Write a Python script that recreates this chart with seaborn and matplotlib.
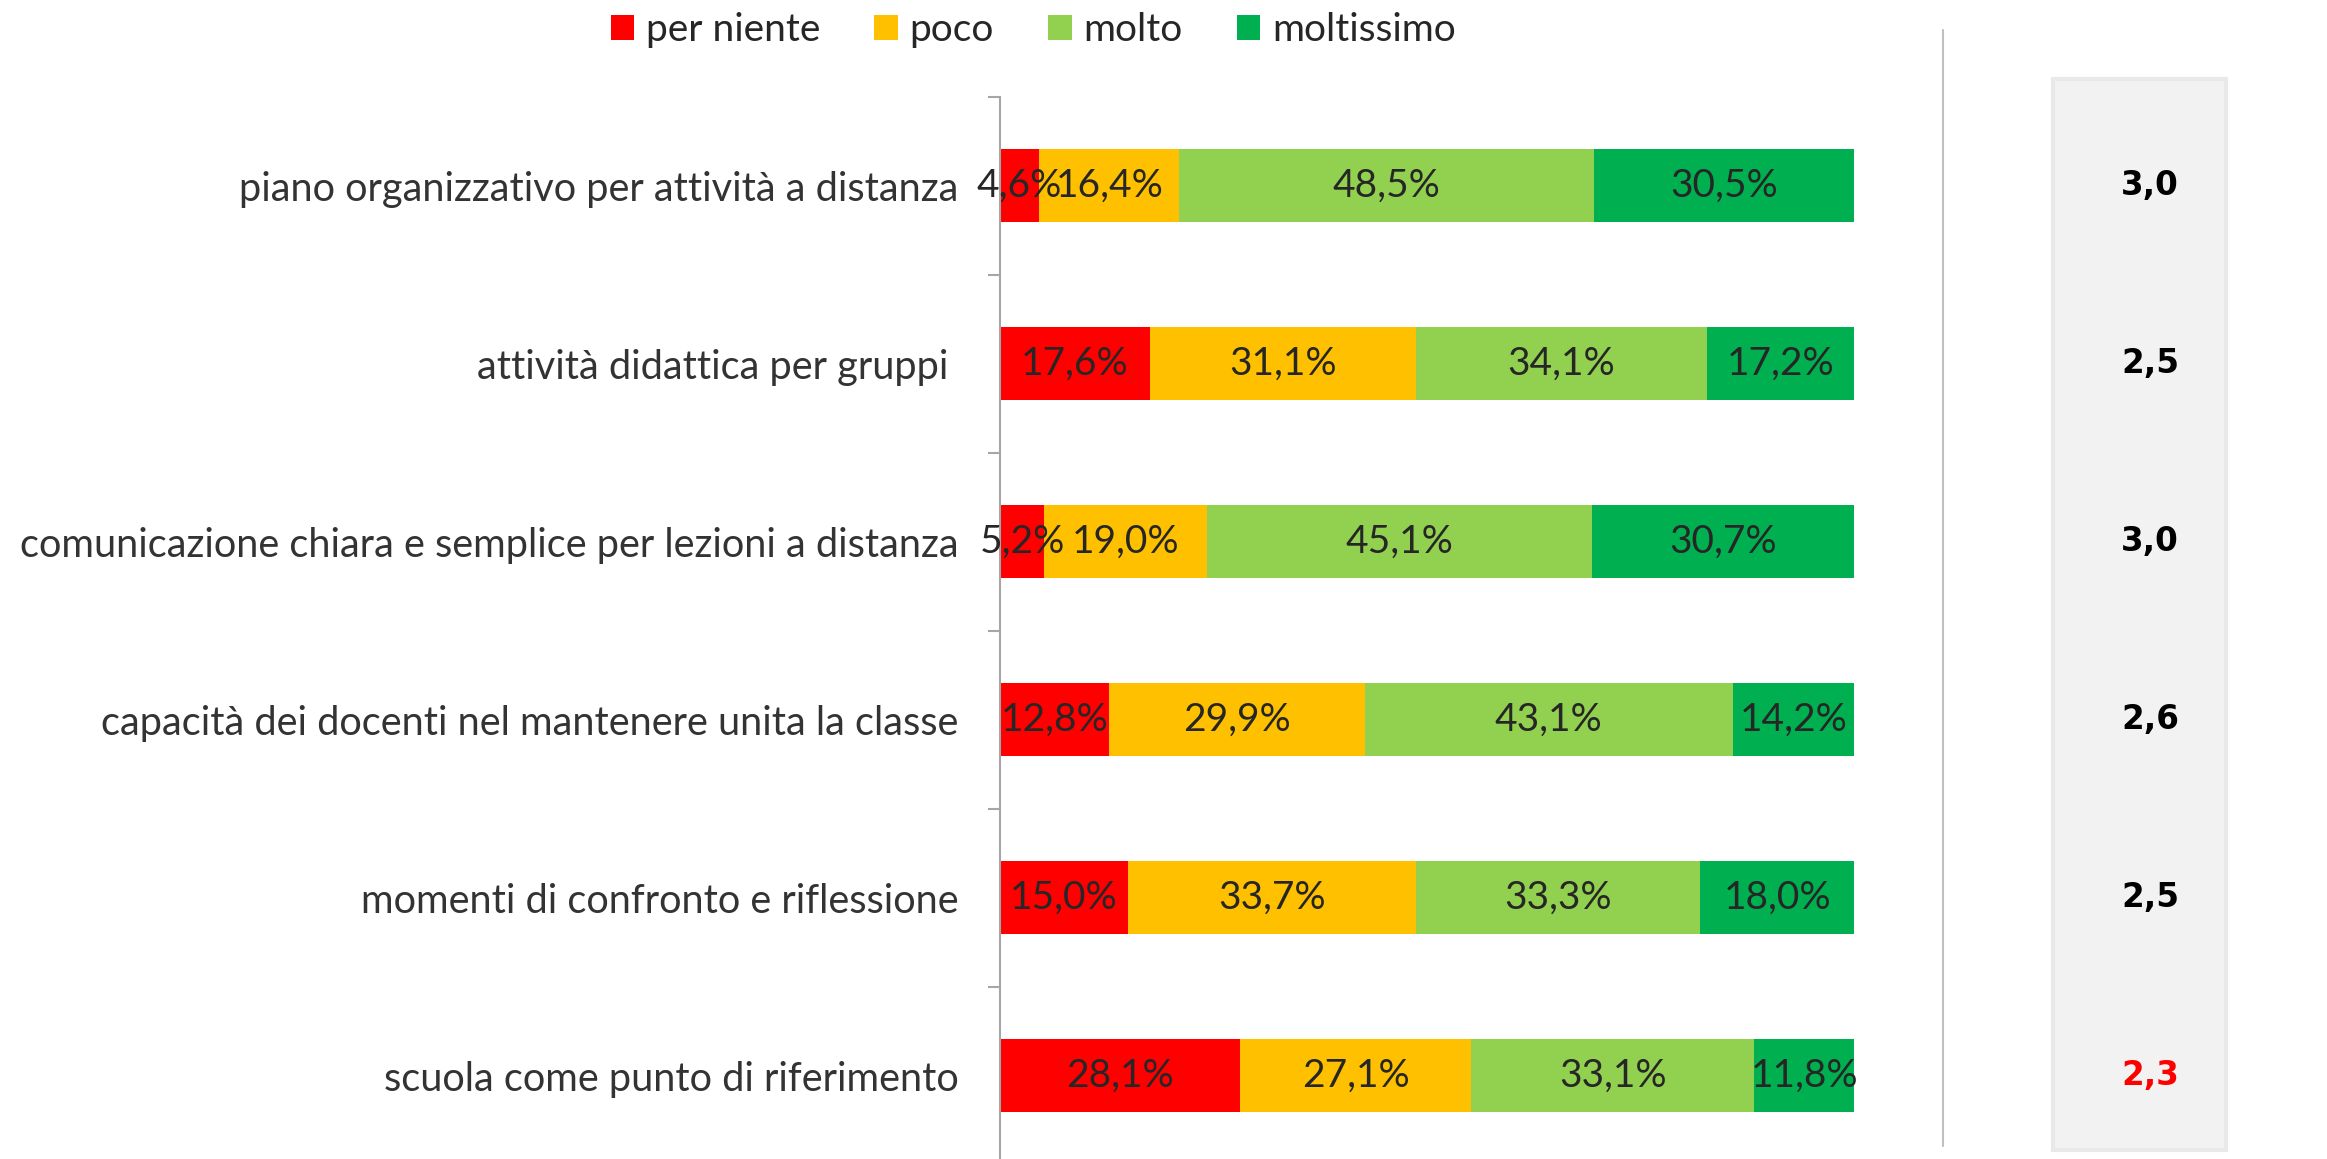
import numpy as np
import pandas as pd
import matplotlib
matplotlib.use("Agg")
import matplotlib.pyplot as plt
import seaborn as sns
from matplotlib.patches import Rectangle, Patch
from matplotlib.lines import Line2D
from matplotlib.transforms import blended_transform_factory

categories = [
    "piano organizzativo per attività a distanza",
    "attività didattica per gruppi ",
    "comunicazione chiara e semplice per lezioni a distanza",
    "capacità dei docenti nel mantenere unita la classe",
    "momenti di confronto e riflessione",
    "scuola come punto di riferimento",
]
series_names = ["per niente", "poco", "molto", "moltissimo"]
per_niente = [4.6, 17.6, 5.2, 12.8, 15.0, 28.1]
poco = [16.4, 31.1, 19.0, 29.9, 33.7, 27.1]
molto = [48.5, 34.1, 45.1, 43.1, 33.3, 33.1]
moltissimo = [30.5, 17.2, 30.7, 14.2, 18.0, 11.8]
medie = ["3,0", "2,5", "3,0", "2,6", "2,5", "2,3"]
medie_colori = ["black", "black", "black", "black", "black", "#ff0000"]

colors = ["#ff0000", "#ffc000", "#92d050", "#00b050"]

sns.set_style("white")
plt.rcParams['font.family'] = ['Lato', 'DejaVu Sans']

df = pd.DataFrame({"categoria": categories, "per niente": per_niente, "poco": poco,
                   "molto": molto, "moltissimo": moltissimo})
cum = df[series_names].cumsum(axis=1)

fig = plt.figure(figsize=(23.27, 11.59), dpi=100)
ax = fig.add_axes([1000 / 2327, -6 / 1159, 854 / 2327, 1068.5 / 1159])

# stacked bars: draw cumulative totals from the longest to the shortest
for name, col in reversed(list(zip(series_names, colors))):
    sns.barplot(x=cum[name], y=df["categoria"], color=col, width=0.41,
                orient="h", linewidth=0, saturation=1, ax=ax)

fs = 28
for name in series_names:
    for i, v in enumerate(df[name]):
        centro = cum[name][i] - v / 2
        ax.text(centro, i, f"{v:.1f}%".replace(".", ","), ha="center", va="center",
                fontsize=fs, color="#262626")

ax.set_xlim(0, 100)
ax.set_ylim(5.5, -0.5)
ax.set_xlabel("")
ax.set_ylabel("")
ax.set_xticks([])
for s in ["top", "right", "bottom"]:
    ax.spines[s].set_visible(False)
ax.spines["left"].set_color("#a6a6a6")
ax.spines["left"].set_linewidth(1.5)
ax.set_yticks(np.arange(-0.5, 6, 1), minor=True)
ax.tick_params(axis="y", which="minor", length=9, width=1.5, color="#a6a6a6", left=True)
ax.tick_params(axis="y", which="major", length=0, pad=30, labelsize=28.6, labelcolor="#333333")

handles = [Patch(facecolor=c, edgecolor="none") for c in colors]
fig.legend(handles, series_names, loc="center", bbox_to_anchor=(0.444, 0.974), ncol=4,
           frameon=False, fontsize=fs, handlelength=0.6, handleheight=0.6,
           handletextpad=0.3, columnspacing=1.4, labelcolor="#262626")

# separator line and grey panel with the means
fig.add_artist(Line2D([1943 / 2327, 1943 / 2327], [1 - 30 / 1159, 1 - 1146 / 1159],
                      color="#bfbfbf", linewidth=1.5))
fig.add_artist(Rectangle((2053 / 2327, 1 - 1150 / 1159), 173 / 2327, 1071 / 1159,
                         facecolor="#f2f2f2", edgecolor="#e9e9e9", linewidth=3,
                         transform=fig.transFigure, zorder=0))
trans = blended_transform_factory(fig.transFigure, ax.transData)
for i, (m, c) in enumerate(zip(medie, medie_colori)):
    ax.text(2150 / 2327, i, m, transform=trans, ha="center", va="center", fontsize=23.5,
            fontweight="bold", color=c, family="DejaVu Sans", clip_on=False)

fig.savefig("out.png", dpi=100)
